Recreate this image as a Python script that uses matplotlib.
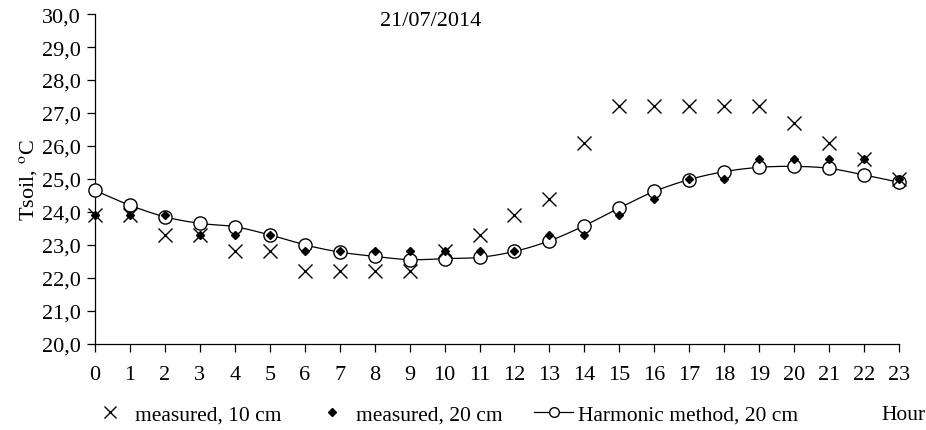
import numpy as np
import matplotlib
matplotlib.use("Agg")
import matplotlib.pyplot as plt
from matplotlib.lines import Line2D

plt.rcParams['font.family'] = ['Liberation Serif', 'DejaVu Serif']
plt.rcParams['mathtext.fontset'] = 'stix'

# dane
hours = list(range(24))
measured_10 = [23.9, 23.9, 23.3, 23.3, 22.8, 22.8, 22.2, 22.2, 22.2, 22.2, 22.8, 23.3,
               23.9, 24.4, 26.1, 27.2, 27.2, 27.2, 27.2, 27.2, 26.7, 26.1, 25.6, 25.0]
measured_20 = [23.9, 23.9, 23.9, 23.3, 23.3, 23.3, 22.8, 22.8, 22.8, 22.8, 22.8, 22.8,
               22.8, 23.3, 23.3, 23.9, 24.4, 25.0, 25.0, 25.6, 25.6, 25.6, 25.6, 25.0]
harmonic_20 = [24.65, 24.2, 23.85, 23.65, 23.55, 23.3, 23.0, 22.78, 22.65, 22.55, 22.58, 22.62,
               22.8, 23.12, 23.58, 24.12, 24.62, 24.98, 25.22, 25.35, 25.38, 25.32, 25.12, 24.9]
y_ticks = [20, 21, 22, 23, 24, 25, 26, 27, 28, 29, 30]


def smooth_line(x, y, n=20):
    # wygładzenie Catmull-Rom (jak "smoothed line" w Excelu)
    x = np.asarray(x, float)
    y = np.asarray(y, float)
    px = np.concatenate([[2 * x[0] - x[1]], x, [2 * x[-1] - x[-2]]])
    py = np.concatenate([[2 * y[0] - y[1]], y, [2 * y[-1] - y[-2]]])
    t = np.linspace(0, 1, n, endpoint=False)
    xs, ys = [], []
    for i in range(1, len(px) - 2):
        for p, out in ((px, xs), (py, ys)):
            p0, p1, p2, p3 = p[i - 1], p[i], p[i + 1], p[i + 2]
            out.extend(0.5 * (2 * p1 + (-p0 + p2) * t + (2 * p0 - 5 * p1 + 4 * p2 - p3) * t ** 2
                              + (-p0 + 3 * p1 - 3 * p2 + p3) * t ** 3))
    xs.append(x[-1])
    ys.append(y[-1])
    return xs, ys


FS = 16
LFS = 15.5

fig = plt.figure(figsize=(9.26, 4.31), dpi=100)
ax = fig.add_axes([0.1026, 0.2002, 0.8682, 0.7648])

sx, sy = smooth_line(hours, harmonic_20)
ax.plot(sx, sy, color='black', lw=0.9, clip_on=False)
ax.plot(hours, harmonic_20, 'o', ms=9.5, mfc='white', mec='black', mew=1.0, clip_on=False, zorder=3)
ax.plot(hours, measured_20, 'D', ms=4.5, color='black', clip_on=False, zorder=4)
ax.plot(hours, measured_10, 'x', ms=10.5, mew=1.0, color='black', clip_on=False, zorder=5)

ax.set_xlim(0, 23)
ax.set_ylim(20, 30)
ax.set_xticks(hours)
ax.set_yticks(y_ticks)
ax.set_yticklabels([f"{v:.1f}".replace('.', ',') for v in y_ticks])
ax.tick_params(labelsize=FS, length=6, width=0.9, direction='out')
ax.tick_params(axis='x', pad=9)
ax.tick_params(axis='y', pad=4)
for s in ('top', 'right'):
    ax.spines[s].set_visible(False)
for s in ('left', 'bottom'):
    ax.spines[s].set_linewidth(0.9)

ax.set_ylabel('Tsoil, $^{\\rm o}$C', fontsize=FS, labelpad=2)
ax.text(0.418, 0.982, '21/07/2014', transform=ax.transAxes, ha='center', va='center', fontsize=FS)

handles = [
    Line2D([], [], ls='none', marker='x', ms=8.5, mew=1.0, color='black'),
    Line2D([], [], ls='none', marker='D', ms=4, color='black'),
    Line2D([], [], color='black', lw=0.9, marker='o', ms=7, mfc='white', mec='black'),
]
labels = ['measured, 10 cm', 'measured, 20 cm', 'Harmonic method, 20 cm']
fig.legend(handles, labels, loc='center left', bbox_to_anchor=(90.5 / 926, 0.037), ncol=3,
           frameon=False, fontsize=LFS, handlelength=1.8, columnspacing=1.45,
           handletextpad=0.25, borderpad=0, borderaxespad=0)
fig.text(0.999, 0.037, 'Hour', ha='right', va='center', fontsize=LFS)

fig.savefig('out.png', dpi=100)
